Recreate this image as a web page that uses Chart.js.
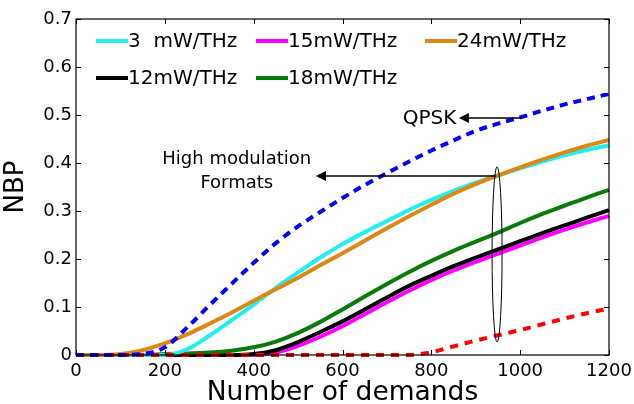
<!DOCTYPE html>
<html>
<head>
<meta charset="utf-8">
<script src="https://cdn.jsdelivr.net/npm/chart.js@4"></script>
<style>
  html, body { margin: 0; padding: 0; background: #ffffff; }
  #wrap { width: 634px; height: 404px; }
</style>
</head>
<body>
<div id="wrap"><canvas id="nbp"></canvas></div>
<script>
// Number of demands (x) and NBP values
const demands = [0, 50, 100, 150, 200, 250, 300, 350, 400, 450, 500, 550, 600,
                 650, 700, 750, 800, 850, 900, 950, 1000, 1050, 1100, 1150, 1200];

const nbp3  = [0, 0, 0, 0, 0, 0.012, 0.04, 0.072, 0.105, 0.14, 0.172, 0.203, 0.231,
               0.256, 0.279, 0.302, 0.323, 0.342, 0.359, 0.374, 0.389, 0.403, 0.416, 0.427, 0.437];
const nbp15 = [0, 0, 0, 0, 0, 0, 0, 0, 0, 0.005, 0.019, 0.038, 0.06,
               0.085, 0.11, 0.134, 0.156, 0.176, 0.194, 0.211, 0.228, 0.245, 0.261, 0.276, 0.29];
const nbp24 = [0, 0, 0.002, 0.01, 0.024, 0.043, 0.065, 0.088, 0.113, 0.137, 0.161, 0.187, 0.212,
               0.238, 0.264, 0.289, 0.313, 0.336, 0.356, 0.374, 0.391, 0.407, 0.422, 0.436, 0.448];
const nbp12 = [0, 0, 0, 0, 0, 0, 0, 0, 0.002, 0.01, 0.027, 0.048, 0.07,
               0.095, 0.12, 0.144, 0.165, 0.185, 0.203, 0.22, 0.237, 0.254, 0.27, 0.286, 0.302];
const nbp18 = [0, 0, 0, 0, 0.002, 0.003, 0.005, 0.009, 0.016, 0.028, 0.046, 0.069, 0.095,
               0.122, 0.148, 0.173, 0.196, 0.217, 0.236, 0.255, 0.275, 0.294, 0.311, 0.328, 0.344];
const qpsk  = [0, 0, 0, 0.002, 0.016, 0.057, 0.103, 0.148, 0.192, 0.233, 0.268, 0.298, 0.327,
               0.354, 0.379, 0.403, 0.426, 0.447, 0.467, 0.482, 0.495, 0.509, 0.522, 0.533, 0.544];
const highMod = [0, 0, 0, 0, 0, 0, 0, 0, 0, 0, 0, 0, 0,
                 0, 0, 0, 0.006, 0.018, 0.03, 0.041, 0.052, 0.064, 0.076, 0.087, 0.097];

const xTicks = [0, 200, 400, 600, 800, 1000, 1200];
const yTicks = [0, 0.1, 0.2, 0.3, 0.4, 0.5, 0.6, 0.7];

const pts = (arr) => arr.map((v, i) => ({ x: demands[i], y: v }));

Chart.defaults.font.family = '"DejaVu Sans"';
Chart.defaults.color = '#000000';

// legend rows as in the figure: [label, column, row]
const legendSlots = [
    ['3  mW/THz', 0, 0],
    ['15mW/THz', 1, 0],
    ['24mW/THz', 2, 0],
    ['12mW/THz', 0, 1],
    ['18mW/THz', 1, 1],
];
const legendCols = [96, 256, 425];
const legendRows = [41, 78];

/* box, inward ticks, legend and the two annotations */
const decor = {
    id: 'decor',
    afterDraw(chart) {
        const ctx = chart.ctx;
        const a = chart.chartArea;
        const sx = chart.scales.x;
        const sy = chart.scales.y;
        ctx.save();
        ctx.strokeStyle = '#000000';
        ctx.lineWidth = 1.2;
        ctx.strokeRect(a.left, a.top, a.right - a.left, a.bottom - a.top);
        ctx.lineWidth = 1;
        ctx.beginPath();
        xTicks.forEach((t) => {
            const px = Math.round(sx.getPixelForValue(t)) + 0.5;
            ctx.moveTo(px, a.bottom); ctx.lineTo(px, a.bottom - 5);
            ctx.moveTo(px, a.top); ctx.lineTo(px, a.top + 5);
        });
        yTicks.forEach((t) => {
            const py = Math.round(sy.getPixelForValue(t)) + 0.5;
            ctx.moveTo(a.left, py); ctx.lineTo(a.left + 5, py);
            ctx.moveTo(a.right, py); ctx.lineTo(a.right - 5, py);
        });
        ctx.stroke();

        // legend
        ctx.font = '20px "DejaVu Sans"';
        ctx.textBaseline = 'middle';
        ctx.textAlign = 'left';
        legendSlots.forEach(([label, c, r]) => {
            const ds = chart.data.datasets.find((d) => d.label === label);
            const x0 = legendCols[c];
            const y0 = legendRows[r];
            ctx.strokeStyle = ds.borderColor;
            ctx.lineWidth = 4;
            ctx.beginPath();
            ctx.moveTo(x0, y0); ctx.lineTo(x0 + 32, y0);
            ctx.stroke();
            ctx.fillStyle = '#000000';
            ctx.fillText(label, x0 + 32, y0 + 1);
        });

        // arrows
        const arrow = (x1, y1, x2, y2) => {
            const p1 = [sx.getPixelForValue(x1), sy.getPixelForValue(y1)];
            const p2 = [sx.getPixelForValue(x2), sy.getPixelForValue(y2)];
            ctx.strokeStyle = '#000000';
            ctx.fillStyle = '#000000';
            ctx.lineWidth = 1.5;
            ctx.beginPath();
            ctx.moveTo(p1[0], p1[1]); ctx.lineTo(p2[0] + 8, p2[1]);
            ctx.stroke();
            ctx.beginPath();
            ctx.moveTo(p2[0], p2[1]);
            ctx.lineTo(p2[0] + 10, p2[1] - 5);
            ctx.lineTo(p2[0] + 10, p2[1] + 5);
            ctx.closePath();
            ctx.fill();
        };
        arrow(1004, 0.494, 862, 0.494);
        arrow(946, 0.373, 540, 0.373);

        // ellipse round the high modulation curves
        const ex = sx.getPixelForValue(948);
        const eTop = sy.getPixelForValue(0.392);
        const eBot = sy.getPixelForValue(0.027);
        ctx.lineWidth = 1;
        ctx.beginPath();
        ctx.ellipse(ex, (eTop + eBot) / 2, 5, (eBot - eTop) / 2, 0, 0, Math.PI * 2);
        ctx.stroke();

        ctx.fillStyle = '#000000';
        ctx.textAlign = 'center';
        ctx.font = '20px "DejaVu Sans"';
        ctx.fillText('QPSK', sx.getPixelForValue(796), sy.getPixelForValue(0.494) + 1);
        ctx.font = '18px "DejaVu Sans"';
        ctx.fillText('High modulation', sx.getPixelForValue(362), sy.getPixelForValue(0.408));
        ctx.fillText('Formats', sx.getPixelForValue(362), sy.getPixelForValue(0.358));
        ctx.restore();
    },
};

const solid = (label, data, color, order) => ({
    label: label,
    data: pts(data),
    borderColor: color,
    borderWidth: 4,
    order: order,
});

new Chart(document.getElementById('nbp'), {
    type: 'line',
    data: {
        datasets: [
            {
                label: 'QPSK',
                data: pts(qpsk),
                borderColor: '#0000ff',
                borderWidth: 4,
                borderDash: [8, 6],
                order: 0,
            },
            {
                label: 'High modulation',
                data: pts(highMod),
                borderColor: '#ff0000',
                borderWidth: 4,
                borderDash: [8, 7],
                order: 1,
            },
            solid('24mW/THz', nbp24, '#dd8816', 2),
            solid('3  mW/THz', nbp3, '#22eef0', 3),
            solid('18mW/THz', nbp18, '#0a7a0a', 4),
            solid('12mW/THz', nbp12, '#000000', 5),
            solid('15mW/THz', nbp15, '#ff00ff', 6),
        ],
    },
    options: {
        responsive: true,
        maintainAspectRatio: false,
        animation: false,
        layout: {
            padding: { top: 19, right: 25, left: 0, bottom: 0 },
        },
        datasets: {
            line: {
                pointRadius: 0,
                fill: false,
                clip: false,
                cubicInterpolationMode: 'monotone',
            },
        },
        scales: {
            x: {
                type: 'linear',
                min: 0,
                max: 1200,
                afterFit: (s) => { s.height = 49; s.paddingLeft = 0; s.paddingRight = 0; },
                afterBuildTicks: (s) => { s.ticks = xTicks.map((v) => ({ value: v })); },
                grid: { display: false, drawTicks: false },
                border: { display: false },
                ticks: {
                    padding: 6,
                    maxRotation: 0,
                    color: '#000000',
                    font: { size: 18 },
                    callback: (v) => String(v),
                },
                title: {
                    display: true,
                    text: 'Number of demands',
                    color: '#000000',
                    font: { size: 26.5 },
                    padding: { top: 0, bottom: -5 },
                },
            },
            y: {
                min: 0,
                max: 0.7,
                afterFit: (s) => { s.width = 76; s.paddingTop = 0; s.paddingBottom = 0; },
                afterBuildTicks: (s) => { s.ticks = yTicks.map((v) => ({ value: v })); },
                grid: { display: false, drawTicks: false },
                border: { display: false },
                ticks: {
                    padding: 4,
                    color: '#000000',
                    font: { size: 18 },
                    callback: (v) => (v === 0 ? '0' : v.toFixed(1)),
                },
                title: {
                    display: true,
                    text: 'NBP',
                    color: '#000000',
                    font: { size: 26 },
                    padding: { top: 1, bottom: 0 },
                },
            },
        },
        plugins: {
            legend: { display: false },
            tooltip: { enabled: false },
        },
    },
    plugins: [decor],
});
</script>
</body>
</html>
